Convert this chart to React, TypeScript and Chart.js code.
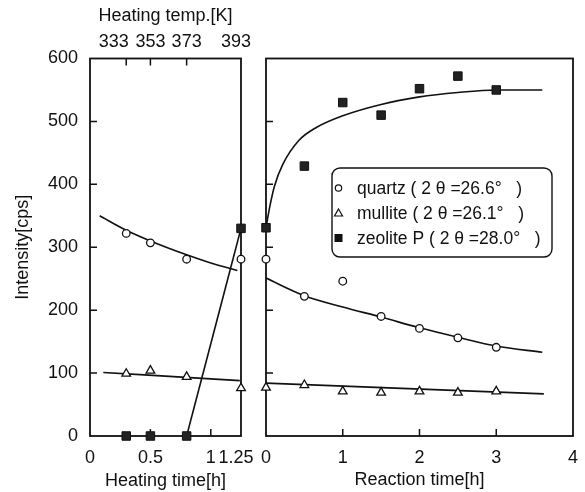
import React, { useEffect, useRef } from 'react';
import { Chart, registerables } from 'chart.js';

Chart.register(...registerables);

const FONT = "'Liberation Sans', Arial, Helvetica, sans-serif";
const INK = '#111111';

// ---- Left panel: heating ----
const heatingTime = [0.3, 0.5, 0.8, 1.25];
const heatingTemp = [333, 353, 373, 393];
const quartzHeat = [322, 307, 281, 281];
const mulliteHeat = [99, 104, 94, 76];
const zeoliteHeat = [0, 0, 0, 330];

const quartzHeatFitT = [0.08, 0.3, 0.5, 0.8, 1.0, 1.22];
const quartzHeatFitV = [350, 327, 310, 288, 275, 263];
const mulliteHeatFitT = [0.11, 1.24];
const mulliteHeatFitV = [101, 88];
const zeoliteHeatFitT = [0.8, 1.25];
const zeoliteHeatFitV = [0, 330];

// ---- Right panel: reaction ----
const reactionTime = [0, 0.5, 1, 1.5, 2, 2.5, 3];
const quartzReact = [281, 222, 246, 190, 171, 156, 141];
const mulliteReact = [77, 81, 71, 69, 71, 69, 71];
const zeoliteReact = [331, 429, 530, 510, 552, 572, 550];

const quartzReactFitT = [0, 0.5, 1, 1.5, 2, 2.5, 3, 3.6];
const quartzReactFitV = [251, 223, 205, 189, 172, 157, 143, 133];
const mulliteReactFitT = [0, 3.62];
const mulliteReactFitV = [84, 67];
const zeoliteReactFitT = [0, 0.05, 0.11, 0.22, 0.43, 0.65, 1, 1.5, 2, 2.5, 3, 3.6];
const zeoliteReactFitV = [331, 365, 397, 432, 470, 490, 509, 527, 539, 546, 550, 550];

// ---- Ticks / labels ----
const heatingTickValues = [0, 0.5, 1, 1.25];
const heatingTickLabels = ['0', '0.5', '1', '1.25  '];
const tempTickLabels = heatingTemp.map((t, i) => (i === 0 ? `${t}     ` : i === 3 ? `${t}  ` : `${t}`));
const reactionTickValues = [0, 1, 2, 3, 4];
const intensityTicks = [0, 100, 200, 300, 400, 500, 600];
const innerYTicks = [100, 200, 300, 400, 500];
const heatingInnerTicks = [0.5, 1];
const tempInnerTicks = [0.3, 0.5, 0.8];
const reactionInnerTicks = [1, 2, 3];

const seriesNames = ['quartz ( 2 θ =26.6°   )', 'mullite ( 2 θ =26.1°   )', 'zeolite P ( 2 θ =28.0°   )'];
const seriesStyles = ['circle', 'triangle', 'rect'];

const pts = (xs: number[], ys: number[]) => xs.map((x, i) => ({ x, y: ys[i] }));

const markerRadius: Record<string, number> = { circle: 3.8, triangle: 5, rect: 6 };

function marker(label: string, data: any[], style: string) {
  return {
    label,
    data,
    xAxisID: 'x',
    yAxisID: 'y',
    showLine: false,
    pointStyle: style,
    pointRadius: markerRadius[style],
    pointBackgroundColor: style === 'rect' ? '#222' : '#fff',
    pointBorderColor: INK,
    pointBorderWidth: style === 'rect' ? 1 : 1.3,
    clip: false,
    order: 0,
  };
}

function fit(data: any[]) {
  return {
    label: 'fit',
    data,
    xAxisID: 'x',
    yAxisID: 'y',
    showLine: true,
    pointRadius: 0,
    borderColor: INK,
    borderWidth: 1.6,
    cubicInterpolationMode: 'monotone',
    fill: false,
    order: 1,
  };
}

const framePlugin = {
  id: 'frame',
  beforeDatasetsDraw(chart: any, _args: any, opts: any) {
    const { ctx, chartArea: a, scales } = chart;
    ctx.save();
    ctx.strokeStyle = INK;
    ctx.lineWidth = 1.8;
    ctx.strokeRect(a.left, a.top, a.right - a.left, a.bottom - a.top);
    const L = 7;
    ctx.lineWidth = 1.5;
    ctx.beginPath();
    (opts.yTicks || []).forEach((v: number) => {
      const p = scales.y.getPixelForValue(v);
      ctx.moveTo(a.left, p);
      ctx.lineTo(a.left + L, p);
    });
    (opts.bottomTicks || []).forEach((v: number) => {
      const p = scales.x.getPixelForValue(v);
      ctx.moveTo(p, a.bottom);
      ctx.lineTo(p, a.bottom - L);
    });
    if (scales.xTop) {
      (opts.topTicks || []).forEach((v: number) => {
        const p = scales.xTop.getPixelForValue(v);
        ctx.moveTo(p, a.top);
        ctx.lineTo(p, a.top + L);
      });
    }
    ctx.stroke();
    ctx.restore();
  },
  afterDraw(chart: any, _args: any, opts: any) {
    if (!opts.legend) return;
    const { ctx, chartArea: a } = chart;
    const bx = a.left + 66;
    const by = 168;
    const bw = 220;
    const bh = 89;
    const r = 8;
    ctx.save();
    ctx.strokeStyle = INK;
    ctx.fillStyle = '#fff';
    ctx.lineWidth = 1.4;
    ctx.beginPath();
    ctx.moveTo(bx + r, by);
    ctx.lineTo(bx + bw - r, by);
    ctx.arcTo(bx + bw, by, bx + bw, by + r, r);
    ctx.lineTo(bx + bw, by + bh - r);
    ctx.arcTo(bx + bw, by + bh, bx + bw - r, by + bh, r);
    ctx.lineTo(bx + r, by + bh);
    ctx.arcTo(bx, by + bh, bx, by + bh - r, r);
    ctx.lineTo(bx, by + r);
    ctx.arcTo(bx, by, bx + r, by, r);
    ctx.closePath();
    ctx.fill();
    ctx.stroke();
    ctx.font = `17.5px ${FONT}`;
    ctx.textBaseline = 'middle';
    ctx.textAlign = 'left';
    opts.legend.names.forEach((name: string, i: number) => {
      const cy = by + 20 + i * 25;
      const cx = bx + 6.5;
      const st = opts.legend.styles[i];
      ctx.lineWidth = 1.2;
      ctx.strokeStyle = INK;
      ctx.beginPath();
      if (st === 'circle') {
        ctx.arc(cx, cy, 3.2, 0, Math.PI * 2);
        ctx.stroke();
      } else if (st === 'triangle') {
        ctx.moveTo(cx, cy - 4);
        ctx.lineTo(cx + 4, cy + 3);
        ctx.lineTo(cx - 4, cy + 3);
        ctx.closePath();
        ctx.stroke();
      } else {
        ctx.fillStyle = INK;
        ctx.fillRect(cx - 4, cy - 4, 8, 8);
      }
      ctx.fillStyle = INK;
      ctx.fillText(name, bx + 25, cy + 1);
    });
    ctx.restore();
  },
};

const tickFont = { size: 18, family: FONT };

export default function App() {
  const leftRef = useRef<HTMLCanvasElement>(null);
  const rightRef = useRef<HTMLCanvasElement>(null);

  useEffect(() => {
    Chart.defaults.font.family = FONT;
    Chart.defaults.color = INK;

    const yScale = (showLabels: boolean, width: number) => ({
      type: 'linear',
      position: 'left',
      min: 0,
      max: 600,
      grid: { display: false, drawTicks: false },
      border: { display: false },
      afterBuildTicks: (s: any) => {
        s.ticks = intensityTicks.map((v) => ({ value: v }));
      },
      ticks: { display: showLabels, padding: 12, font: tickFont, color: INK },
      title: {
        display: showLabels,
        text: 'Intensity[cps]',
        font: tickFont,
        color: INK,
        padding: { top: 12, bottom: 0 },
      },
      afterFit: (s: any) => {
        s.width = width;
        s.paddingTop = 0;
        s.paddingBottom = 0;
      },
    });

    const left = new Chart(leftRef.current as HTMLCanvasElement, {
      type: 'scatter',
      data: {
        datasets: [
          marker(seriesNames[0], pts(heatingTime, quartzHeat), 'circle'),
          marker(seriesNames[1], pts(heatingTime, mulliteHeat), 'triangle'),
          marker(seriesNames[2], pts(heatingTime, zeoliteHeat), 'rect'),
          fit(pts(quartzHeatFitT, quartzHeatFitV)),
          fit(pts(mulliteHeatFitT, mulliteHeatFitV)),
          fit(pts(zeoliteHeatFitT, zeoliteHeatFitV)),
        ] as any,
      },
      options: {
        responsive: false,
        animation: false,
        events: [],
        layout: { padding: { left: 0, right: 15, top: 0, bottom: 0 } },
        plugins: {
          legend: { display: false },
          tooltip: { enabled: false },
          frame: { yTicks: innerYTicks, bottomTicks: heatingInnerTicks, topTicks: tempInnerTicks },
        } as any,
        scales: {
          x: {
            type: 'linear',
            position: 'bottom',
            min: 0,
            max: 1.25,
            grid: { display: false, drawTicks: false },
            border: { display: false },
            afterBuildTicks: (s: any) => {
              s.ticks = heatingTickValues.map((v) => ({ value: v }));
            },
            ticks: {
              autoSkip: false,
              maxRotation: 0,
              minRotation: 0,
              padding: 11,
              font: tickFont,
              color: INK,
              callback: (_v: any, i: number) => heatingTickLabels[i],
            },
            title: { display: true, text: 'Heating time[h]', font: tickFont, color: INK, padding: { top: 0, bottom: 0 } },
            afterFit: (s: any) => {
              s.height = 56;
              s.paddingLeft = 0;
              s.paddingRight = 0;
            },
          },
          xTop: {
            type: 'linear',
            position: 'top',
            min: 0,
            max: 1.25,
            grid: { display: false, drawTicks: false },
            border: { display: false },
            afterBuildTicks: (s: any) => {
              s.ticks = heatingTime.map((v) => ({ value: v }));
            },
            ticks: {
              autoSkip: false,
              maxRotation: 0,
              minRotation: 0,
              padding: 6,
              font: tickFont,
              color: INK,
              callback: (_v: any, i: number) => tempTickLabels[i],
            },
            title: { display: true, text: 'Heating temp.[K]', font: tickFont, color: INK, padding: { top: 5, bottom: 0 } },
            afterFit: (s: any) => {
              s.height = 58.5;
              s.paddingLeft = 0;
              s.paddingRight = 0;
            },
          },
          y: yScale(true, 90),
        } as any,
      },
      plugins: [framePlugin as any],
    });

    const right = new Chart(rightRef.current as HTMLCanvasElement, {
      type: 'scatter',
      data: {
        datasets: [
          marker(seriesNames[0], pts(reactionTime, quartzReact), 'circle'),
          marker(seriesNames[1], pts(reactionTime, mulliteReact), 'triangle'),
          marker(seriesNames[2], pts(reactionTime, zeoliteReact), 'rect'),
          fit(pts(quartzReactFitT, quartzReactFitV)),
          fit(pts(mulliteReactFitT, mulliteReactFitV)),
          fit(pts(zeoliteReactFitT, zeoliteReactFitV)),
        ] as any,
      },
      options: {
        responsive: false,
        animation: false,
        events: [],
        layout: { padding: { left: 0, right: 12, top: 58.5, bottom: 0 } },
        plugins: {
          legend: { display: false },
          tooltip: { enabled: false },
          frame: {
            yTicks: innerYTicks,
            bottomTicks: reactionInnerTicks,
            legend: { names: seriesNames, styles: seriesStyles },
          },
        } as any,
        scales: {
          x: {
            type: 'linear',
            position: 'bottom',
            min: 0,
            max: 4,
            grid: { display: false, drawTicks: false },
            border: { display: false },
            afterBuildTicks: (s: any) => {
              s.ticks = reactionTickValues.map((v) => ({ value: v }));
            },
            ticks: {
              autoSkip: false,
              maxRotation: 0,
              minRotation: 0,
              padding: 11,
              font: tickFont,
              color: INK,
              callback: (v: any) => String(v),
            },
            title: { display: true, text: 'Reaction time[h]', font: tickFont, color: INK, padding: { top: 0, bottom: 1 } },
            afterFit: (s: any) => {
              s.height = 56;
              s.paddingLeft = 0;
              s.paddingRight = 0;
            },
          },
          y: yScale(false, 10),
        } as any,
      },
      plugins: [framePlugin as any],
    });

    return () => {
      left.destroy();
      right.destroy();
    };
  }, []);

  return (
    <div style={{ position: 'fixed', left: 0, top: 0, width: 585, height: 492, background: '#fff' }}>
      <canvas
        ref={leftRef}
        width={256}
        height={492}
        style={{ position: 'absolute', left: 0, top: 0, width: 256, height: 492 }}
      />
      <canvas
        ref={rightRef}
        width={329}
        height={492}
        style={{ position: 'absolute', left: 256, top: 0, width: 329, height: 492 }}
      />
    </div>
  );
}
